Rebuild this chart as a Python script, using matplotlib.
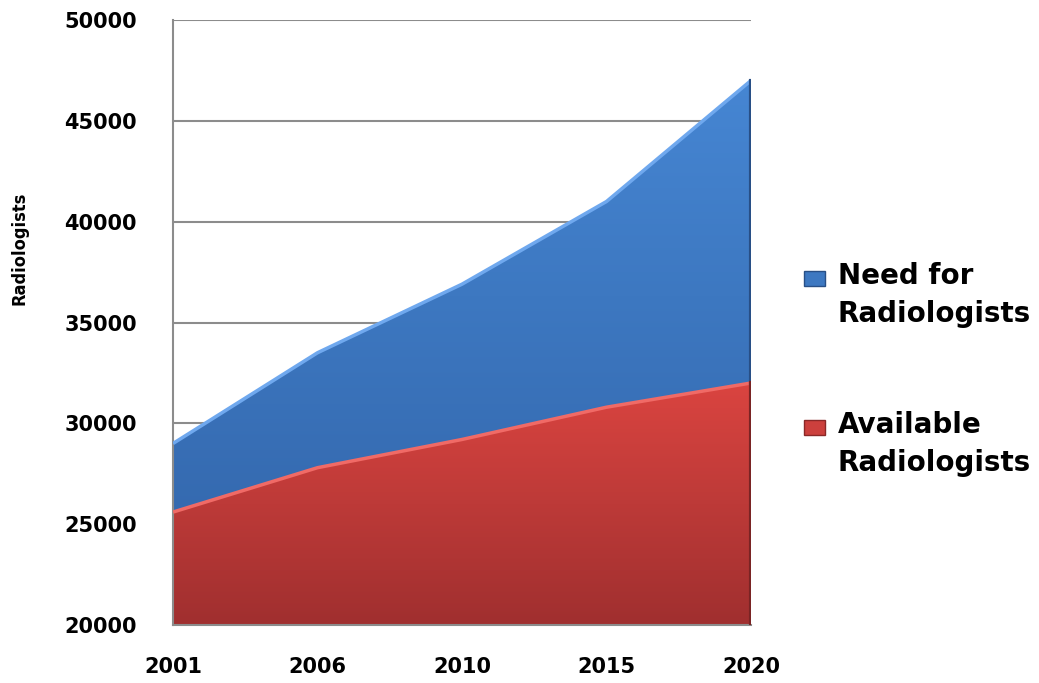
import numpy as np
import matplotlib
matplotlib.use("Agg")
import matplotlib.pyplot as plt
from matplotlib.colors import LinearSegmentedColormap
from matplotlib.patches import Rectangle

years = ["2001", "2006", "2010", "2015", "2020"]
need = [29000, 33500, 36900, 41000, 47000]
available = [25600, 27800, 29200, 30800, 32000]
series_names = ["Need for\nRadiologists", "Available\nRadiologists"]

y_min = 20000
y_max = 50000

fig = plt.figure(figsize=(10.39, 6.83), dpi=100)
ax = fig.add_axes([173 / 1039, 1 - 625 / 683, 578 / 1039, 605 / 683])

x = np.arange(len(years))

blue_cmap = LinearSegmentedColormap.from_list("b", ["#356ab0", "#3d78c1", "#4686d3"])
red_cmap = LinearSegmentedColormap.from_list("r", ["#a02f2f", "#bd3a38", "#da4440"])

grad = np.linspace(0, 1, 256).reshape(-1, 1)


def gradient_fill(lower, upper, cmap, lo, hi):
    poly = ax.fill_between(x, lower, upper, color="none", lw=0, zorder=2)
    im = ax.imshow(grad, cmap=cmap, origin="lower", aspect="auto",
                   extent=[x[0], x[-1], lo, hi], zorder=2)
    im.set_clip_path(poly.get_paths()[0], transform=ax.transData)
    return poly


gradient_fill(available, need, blue_cmap, min(available), max(need))
gradient_fill(y_min, available, red_cmap, y_min, max(available))

# bevel highlights along the top edges
ax.plot(x, need, color="#6fa8ee", lw=2.5, zorder=3, solid_capstyle="butt")
ax.plot(x, available, color="#f06a66", lw=2.5, zorder=3, solid_capstyle="butt")
# darker right edge
ax.plot([x[-1], x[-1]], [available[-1], need[-1]], color="#284f86", lw=3, zorder=3)
ax.plot([x[-1], x[-1]], [y_min, available[-1]], color="#7a2424", lw=3, zorder=3)

ax.set_xlim(x[0], x[-1])
ax.set_ylim(y_min, y_max)
ax.set_yticks(np.arange(y_min, y_max + 1, 5000))
ax.set_xticks(x)
ax.set_xticklabels(years)

ax.grid(axis="y", color="#8c8c8c", lw=1.5, zorder=1)
ax.set_axisbelow(True)
for s in ["top", "right"]:
    ax.spines[s].set_visible(False)
for s in ["left", "bottom"]:
    ax.spines[s].set_color("#8c8c8c")
    ax.spines[s].set_linewidth(1.5)

ax.tick_params(axis="y", length=0, pad=26, labelsize=15)
ax.tick_params(axis="x", length=0, pad=23, labelsize=15)
for lab in ax.get_xticklabels() + ax.get_yticklabels():
    lab.set_fontweight("bold")

fig.text(20 / 1039, 1 - 248 / 683, "Radiologists", rotation=90,
         ha="center", va="center", fontsize=13, fontweight="bold",
         family=["Liberation Sans Narrow", "DejaVu Sans"], fontstretch="condensed")

# legend
legend_colors = [("#3d78c1", "#284f86"), ("#cc403d", "#8a2828")]
legend_tops = [271, 420]
for name, (fc, ec), top in zip(series_names, legend_colors, legend_tops):
    fig.patches.append(Rectangle((804 / 1039, 1 - (top + 15) / 683), 21 / 1039, 15 / 683,
                                 transform=fig.transFigure, facecolor=fc,
                                 edgecolor=ec, lw=1))
    fig.text(838 / 1039, 1 - (top - 9) / 683, name, ha="left", va="top",
             fontsize=20, fontweight="bold", linespacing=1.45)

fig.savefig("out.png", dpi=100)
